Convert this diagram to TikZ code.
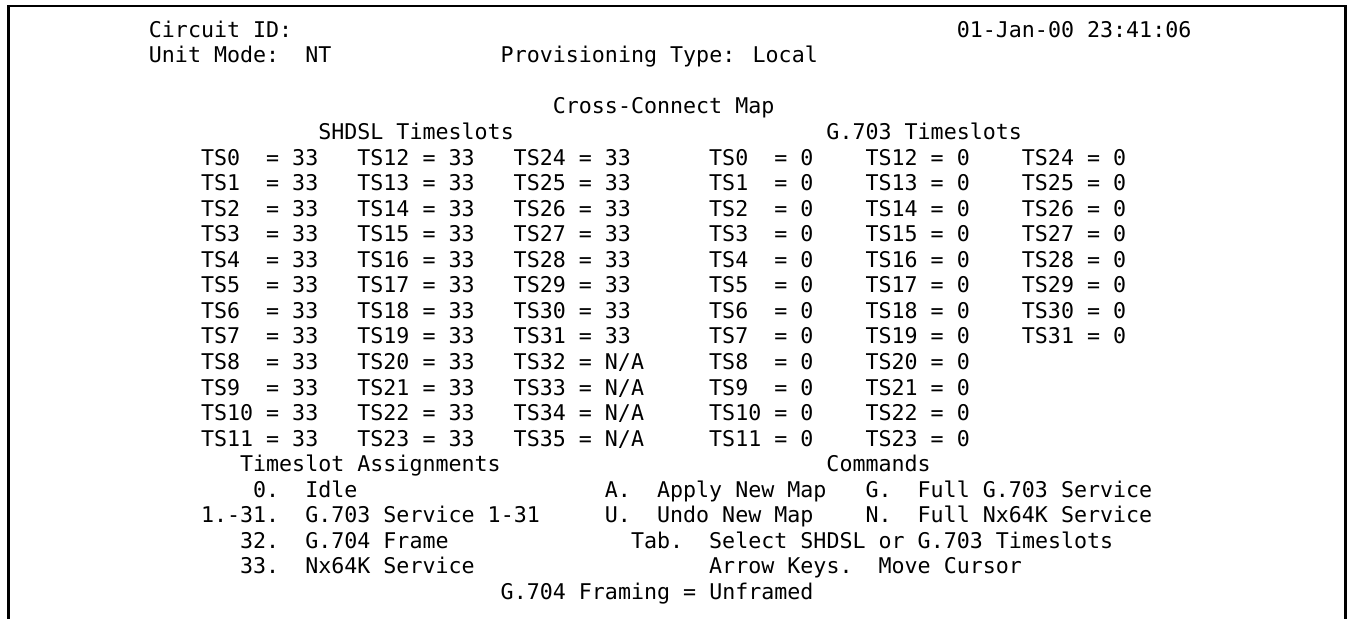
\documentclass[tikz,border=0pt]{standalone}
\usepackage{fontspec}
\newfontfamily\scrfont[Numbers=SlashedZero]{DejaVu Sans Mono}
\begin{document}
\begin{tikzpicture}[x=1pt,y=-1pt,
  txt/.style={anchor=base west, inner sep=0pt, outer sep=0pt,
    font=\scrfont\fontsize{21.65}{26}\selectfont, text=black},
  framestyle/.style={line width=2.5pt, draw=black}]
\useasboundingbox (0,0) rectangle (1351,618);
% screen frame (open at the bottom)
\coordinate (fbl) at (8.7,620);
\coordinate (ftl) at (8.7,6);
\coordinate (ftr) at (1345.5,6);
\coordinate (fbr) at (1345.5,620);
\draw[framestyle] (fbl) -- (ftl) -- (ftr) -- (fbr);
% text grid: column, line
\begin{scope}[shift={(148.9,37.3)}, x=13.03pt, y=-25.55pt]
  \node[txt] (cid) at (0,0) {Circuit ID:};
  \node[txt] (date) at (62,0) {01-Jan-00 23:41:06};
  \node[txt] (um) at (0,1) {Unit Mode:};
  \node[txt] (umv) at (12,1) {NT};
  \node[txt] (prov) at (27,1) {Provisioning Type: Local};
  \node[txt] (ccm) at (31,3) {Cross-Connect Map};
  \node[txt] (shh) at (13,4) {SHDSL Timeslots};
  \node[txt] (gh) at (52,4) {G.703 Timeslots};
  \foreach \r in {0,...,11} {
    \pgfmathtruncatemacro\tb{\r+12}
    \pgfmathtruncatemacro\tc{\r+24}
    \node[txt] (sa\r) at (4,5+\r) {TS\r};
    \node[txt] (sav\r) at (9,5+\r) {= 33};
    \node[txt] (sb\r) at (16,5+\r) {TS\tb};
    \node[txt] (sbv\r) at (21,5+\r) {= 33};
    \node[txt] (sc\r) at (28,5+\r) {TS\tc};
    \node[txt] (scv\r) at (33,5+\r) {\ifnum\tc<32 = 33\else = N/A\fi};
    \node[txt] (ga\r) at (43,5+\r) {TS\r};
    \node[txt] (gav\r) at (48,5+\r) {= 0};
    \node[txt] (gb\r) at (55,5+\r) {TS\tb};
    \node[txt] (gbv\r) at (60,5+\r) {= 0};
    \ifnum\tc<32
      \node[txt] (gc\r) at (67,5+\r) {TS\tc};
      \node[txt] (gcv\r) at (72,5+\r) {= 0};
    \fi
  }
  \node[txt] (tsa) at (7,17) {Timeslot Assignments};
  \node[txt] (cmd) at (52,17) {Commands};
  \node[txt] (k0) at (8,18) {0.};
  \node[txt] (k0t) at (12,18) {Idle};
  \node[txt] (kA) at (35,18) {A.};
  \node[txt] (kAt) at (39,18) {Apply New Map};
  \node[txt] (kG) at (55,18) {G.};
  \node[txt] (kGt) at (59,18) {Full G.703 Service};
  \node[txt] (k1) at (4,19) {1.-31.};
  \node[txt] (k1t) at (12,19) {G.703 Service 1-31};
  \node[txt] (kU) at (35,19) {U.};
  \node[txt] (kUt) at (39,19) {Undo New Map};
  \node[txt] (kN) at (55,19) {N.};
  \node[txt] (kNt) at (59,19) {Full Nx64K Service};
  \node[txt] (k32) at (7,20) {32.};
  \node[txt] (k32t) at (12,20) {G.704 Frame};
  \node[txt] (kTab) at (37,20) {Tab.};
  \node[txt] (kTabt) at (43,20) {Select SHDSL or G.703 Timeslots};
  \node[txt] (k33) at (7,21) {33.};
  \node[txt] (k33t) at (12,21) {Nx64K Service};
  \node[txt] (kAr) at (43,21) {Arrow Keys.};
  \node[txt] (kArt) at (56,21) {Move Cursor};
  \node[txt] (fr) at (27,22) {G.704 Framing = Unframed};
\end{scope}
\end{tikzpicture}
\end{document}
